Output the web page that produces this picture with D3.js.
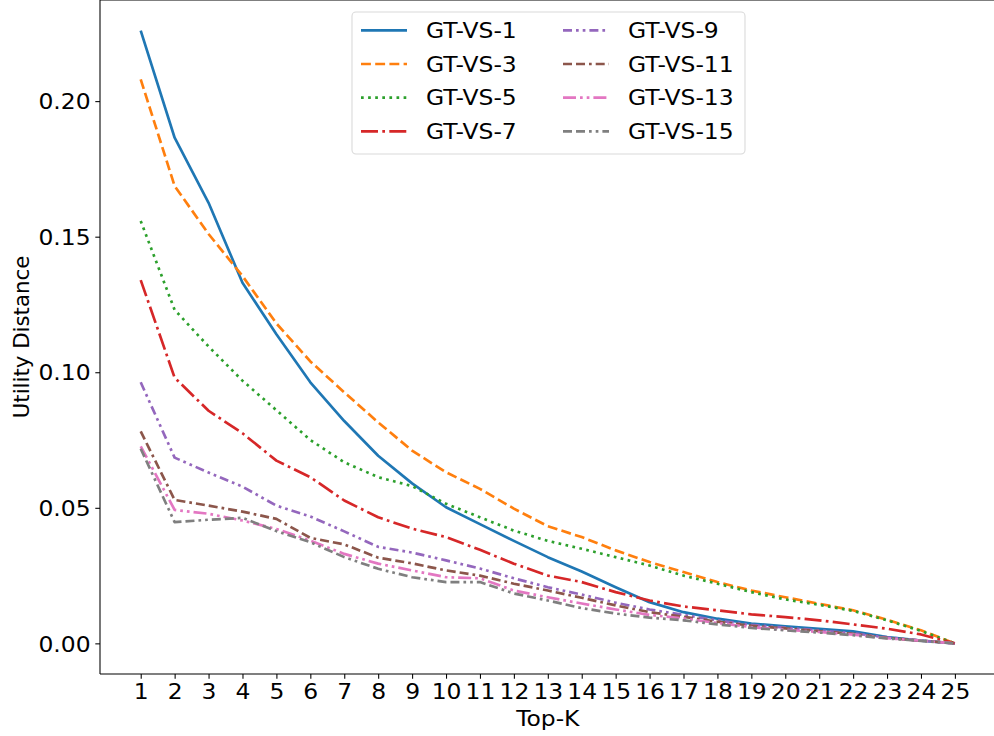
<!DOCTYPE html>
<html>
<head>
<meta charset="utf-8">
<script src="https://cdn.jsdelivr.net/npm/d3@7"></script>
<style>
  html, body { margin: 0; padding: 0; background: #fff; }
  svg { display: block; font-family: "DejaVu Sans", sans-serif; }
</style>
</head>
<body>
<svg id="chart" width="994" height="736"></svg>
<script>
// Top-K values on the x axis
const topK = d3.range(1, 26);

// Utility distance per ground-truth view size
const gtvs1  = [0.226, 0.1865, 0.1625, 0.133, 0.114, 0.0963, 0.082, 0.0692, 0.059, 0.0502, 0.044, 0.0378, 0.0318, 0.0265, 0.0207, 0.0152, 0.0115, 0.0091, 0.0073, 0.0063, 0.0054, 0.0044, 0.0023, 0.001, 0];
const gtvs3  = [0.208, 0.1687, 0.151, 0.1355, 0.118, 0.104, 0.0926, 0.0815, 0.0711, 0.0631, 0.057, 0.0497, 0.0432, 0.0392, 0.0343, 0.0300, 0.0263, 0.0226, 0.0195, 0.0170, 0.0146, 0.0122, 0.0087, 0.0048, 0];
const gtvs5  = [0.1558, 0.123, 0.1095, 0.0969, 0.086, 0.075, 0.0668, 0.0613, 0.058, 0.0515, 0.0465, 0.0416, 0.0378, 0.0349, 0.0318, 0.0287, 0.025, 0.022, 0.0189, 0.0162, 0.0142, 0.012, 0.0085, 0.0046, 0];
const gtvs7  = [0.134, 0.098, 0.0858, 0.0775, 0.0674, 0.0613, 0.0527, 0.0465, 0.0423, 0.0392, 0.0345, 0.0294, 0.025, 0.0226, 0.0189, 0.0158, 0.0136, 0.0122, 0.0107, 0.0097, 0.0085, 0.007, 0.0054, 0.0033, 0];
const gtvs9  = [0.0963, 0.0685, 0.063, 0.0578, 0.0508, 0.0468, 0.0413, 0.0356, 0.0335, 0.0306, 0.0276, 0.024, 0.0207, 0.018, 0.015, 0.0125, 0.0105, 0.0085, 0.0068, 0.0058, 0.0048, 0.0037, 0.0022, 0.001, 0];
const gtvs11 = [0.0782, 0.0529, 0.0508, 0.0486, 0.0459, 0.0389, 0.0365, 0.0316, 0.0295, 0.0269, 0.025, 0.022, 0.0195, 0.0168, 0.014, 0.0115, 0.0098, 0.008, 0.0065, 0.0055, 0.0045, 0.0035, 0.002, 0.001, 0];
const gtvs13 = [0.0727, 0.0492, 0.0478, 0.0453, 0.0422, 0.0379, 0.033, 0.0294, 0.0269, 0.0244, 0.024, 0.0195, 0.017, 0.0147, 0.0125, 0.0105, 0.0092, 0.0075, 0.006, 0.005, 0.0042, 0.0032, 0.0019, 0.001, 0];
const gtvs15 = [0.0718, 0.0447, 0.0456, 0.0463, 0.0414, 0.0373, 0.0318, 0.0275, 0.0244, 0.0226, 0.0226, 0.0184, 0.0158, 0.013, 0.011, 0.0095, 0.0085, 0.007, 0.0057, 0.0048, 0.004, 0.003, 0.0018, 0.0009, 0];

const seriesNames = ["GT-VS-1", "GT-VS-3", "GT-VS-5", "GT-VS-7", "GT-VS-9", "GT-VS-11", "GT-VS-13", "GT-VS-15"];
const seriesValues = [gtvs1, gtvs3, gtvs5, gtvs7, gtvs9, gtvs11, gtvs13, gtvs15];
const yTickValues = [0, 0.05, 0.10, 0.15, 0.20];

const colors = ["#1f77b4", "#ff7f0e", "#2ca02c", "#d62728", "#9467bd", "#8c564b", "#e377c2", "#7f7f7f"];
const dashes = [
  null,
  "9.9 4.3",
  "2.7 4.4",
  "17 4.3 2.7 4.3",
  "9 4 2.7 4 2.7 4",
  "9 4 9 4 2.7 4",
  "13 4 2.7 4 2.7 4",
  "9 4 9 4 2.7 4 2.7 4"
];

const svg = d3.select("#chart");
const plotLeft = 100, plotRight = 995.6, plotBottom = 674, plotTop = 0;
const fontSize = 21.3;
const stretch = 1.1; // horizontal text widening

const x = d3.scaleLinear().domain([-0.2, 26.2]).range([plotLeft, plotRight]);
const yMin = -0.0113, yMax = 0.2373;
const y = d3.scaleLinear().domain([yMin, yMax]).range([plotBottom, plotTop]);

// Lines
const line = d3.line()
  .x((d, i) => x(topK[i]))
  .y(d => y(d));

const plot = svg.append("g");
seriesValues.forEach((vals, s) => {
  plot.append("path")
    .datum(vals)
    .attr("fill", "none")
    .attr("stroke", colors[s])
    .attr("stroke-width", 2.67)
    .attr("stroke-dasharray", dashes[s])
    .attr("stroke-linejoin", "round")
    .attr("stroke-linecap", "butt")
    .attr("d", line);
});

// Axes
const xAxis = d3.axisBottom(x)
  .tickValues(topK)
  .tickFormat(d3.format("d"))
  .tickSize(4.7)
  .tickSizeOuter(0)
  .tickPadding(4.7);
const yAxis = d3.axisLeft(y)
  .tickValues(yTickValues)
  .tickFormat(d3.format(".2f"))
  .tickSize(4.7)
  .tickSizeOuter(0)
  .tickPadding(4.7);

const gx = svg.append("g").attr("transform", `translate(0,${plotBottom})`).call(xAxis);
const gy = svg.append("g").attr("transform", `translate(${plotLeft},0)`).call(yAxis);
[gx, gy].forEach(g => {
  g.select(".domain").remove();
  g.selectAll(".tick line").attr("stroke", "#000").attr("stroke-width", 1.07);
  g.selectAll(".tick text")
    .attr("fill", "#000")
    .style("font-size", fontSize + "px")
    .style("font-family", "DejaVu Sans");
});
gx.selectAll(".tick text").attr("dy", "0.72em").attr("transform", `scale(${stretch},1)`);
gy.selectAll(".tick text").attr("dy", "0.36em")
  .attr("x", -9.4 / stretch)
  .attr("transform", `scale(${stretch},1)`);

// Spines
const spines = svg.append("g").attr("stroke", "#000").attr("stroke-width", 1.07).attr("fill", "none");
spines.append("line").attr("x1", plotLeft).attr("x2", plotLeft).attr("y1", plotTop).attr("y2", plotBottom);
spines.append("line").attr("x1", plotLeft).attr("x2", plotRight).attr("y1", plotBottom).attr("y2", plotBottom);
spines.append("line").attr("x1", plotLeft).attr("x2", plotRight).attr("y1", plotTop).attr("y2", plotTop);
spines.append("line").attr("x1", plotRight).attr("x2", plotRight).attr("y1", plotTop).attr("y2", plotBottom);

// Axis labels
svg.append("text")
  .attr("transform", `translate(${(plotLeft + plotRight) / 2},726) scale(${stretch},1)`)
  .attr("text-anchor", "middle")
  .style("font-size", fontSize + "px")
  .text("Top-K");
svg.append("text")
  .attr("transform", `translate(29,${(plotTop + plotBottom) / 2}) rotate(-90)`)
  .attr("text-anchor", "middle")
  .style("font-size", fontSize + "px")
  .text("Utility Distance");

// Legend
const legend = svg.append("g");
legend.append("rect")
  .attr("x", 352).attr("y", 12)
  .attr("width", 393).attr("height", 142)
  .attr("rx", 4).attr("ry", 4)
  .attr("fill", "#fff").attr("fill-opacity", 0.8)
  .attr("stroke", "#d9d9d9").attr("stroke-width", 1.07);

const rowH = 33.7, row0 = 30.3;
seriesNames.forEach((name, i) => {
  const col = Math.floor(i / 4), row = i % 4;
  const hx = col === 0 ? 361 : 563;
  const cy = row0 + row * rowH;
  legend.append("line")
    .attr("x1", hx).attr("x2", hx + 46)
    .attr("y1", cy).attr("y2", cy)
    .attr("stroke", colors[i])
    .attr("stroke-width", 2.67)
    .attr("stroke-dasharray", dashes[i]);
  legend.append("text")
    .attr("transform", `translate(${hx + 65},${cy}) scale(${stretch},1)`)
    .attr("dy", "0.36em")
    .style("font-size", fontSize + "px")
    .text(name);
});
</script>
</body>
</html>
